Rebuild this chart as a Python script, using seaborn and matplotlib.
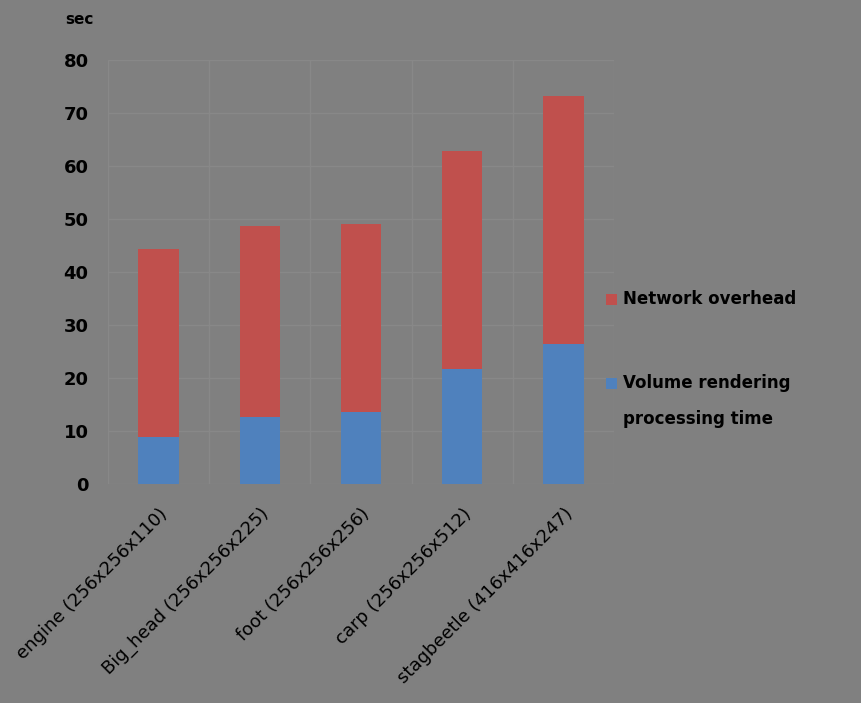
import numpy as np
import pandas as pd
import matplotlib
matplotlib.use("Agg")
import matplotlib.pyplot as plt
import matplotlib.transforms as mtrans
from matplotlib.patches import Rectangle
import seaborn as sns

datasets = ["engine (256x256x110)", "Big_head (256x256x225)", "foot (256x256x256)",
            "carp (256x256x512)", "stagbeetle (416x416x247)"]
rendering = [8.9, 12.7, 13.6, 21.7, 26.4]
network = [35.4, 36.0, 35.5, 41.1, 46.8]
yticks = [0, 10, 20, 30, 40, 50, 60, 70, 80]

df = pd.DataFrame({"dataset": datasets, "rendering": rendering, "network": network})
df["total"] = df["rendering"] + df["network"]

blue = "#4F81BD"
red = "#C0504D"
bg = "#808080"
grid = "#888888"

sns.set_theme(style="white")
plt.rcParams["font.family"] = ["DejaVu Sans"]

fig = plt.figure(figsize=(8.62, 7.03), dpi=100, facecolor=bg)
ax = fig.add_axes([0.1253, 0.3115, 0.5870, 0.6032])
ax.set_facecolor(bg)

# stacked: totals in red, then the rendering part in blue over it
sns.barplot(data=df, x="dataset", y="total", color=red, width=0.4, saturation=1,
            linewidth=0, ax=ax)
sns.barplot(data=df, x="dataset", y="rendering", color=blue, width=0.4, saturation=1,
            linewidth=0, ax=ax)

ax.set_ylim(0, 80)
ax.set_xlim(-0.5, len(datasets) - 0.5)
ax.set_yticks(yticks)
ax.set_yticklabels([str(v) for v in yticks], fontsize=13, fontweight="bold", color="black")
ax.set_xticks(range(len(datasets)))
ax.set_xticklabels(datasets, rotation=45, ha="right", rotation_mode="anchor",
                   fontsize=13, color="black")
shift = mtrans.ScaledTranslation(-5 / 100, 0, fig.dpi_scale_trans)
for lbl in ax.get_xticklabels():
    lbl.set_transform(lbl.get_transform() + shift)
ax.set_xticks(np.arange(-0.5, len(datasets), 1.0), minor=True)
ax.set_xlabel("")
ax.set_ylabel("")

ax.set_axisbelow(True)
ax.yaxis.grid(True, color=grid, linewidth=1)
ax.xaxis.grid(True, which="minor", color=grid, linewidth=1)
ax.xaxis.grid(False, which="major")
for s in ax.spines.values():
    s.set_visible(False)
ax.tick_params(axis="both", which="both", length=0)
ax.tick_params(axis="y", pad=14)
ax.tick_params(axis="x", pad=15)

fig.text(0.076, 0.972, "sec", fontsize=11, fontweight="bold", color="black",
         ha="left", va="center")

# legend drawn by hand so the blue key sits by the first line of its label
W, H = 862, 703
keys = [(red, 299, "Network overhead"), (blue, 383, "Volume rendering")]
for col, yc, txt in keys:
    fig.add_artist(Rectangle((606 / W, 1 - (yc + 6) / H), 11 / W, 11 / H,
                             transform=fig.transFigure, facecolor=col, edgecolor="none"))
    fig.text(623 / W, 1 - yc / H, txt, fontsize=12, fontweight="bold", color="black",
             ha="left", va="center")
fig.text(623 / W, 1 - 419 / H, "processing time", fontsize=12, fontweight="bold",
         color="black", ha="left", va="center")

fig.savefig("out.png", dpi=100, facecolor=bg)
